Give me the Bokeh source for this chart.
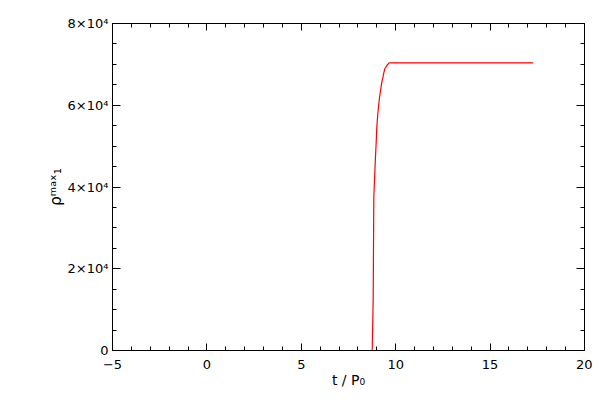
from bokeh.plotting import figure
from bokeh.models import LinearAxis, FixedTicker, Range1d, CustomJSTickFormatter
from bokeh.embed import file_html
from bokeh.resources import INLINE

# data
t_vals = [0, 8.755, 8.808, 8.84, 8.914, 8.946, 8.967, 8.999, 9.052, 9.105, 9.158,
          9.211, 9.264, 9.317, 9.370, 9.423, 9.475, 9.528, 9.581, 9.634, 9.687, 17.283]
rho_vals = [0, 0, 12700, 37500, 45750, 48930, 50960, 54630, 57910, 60360, 62390,
            64030, 65640, 66720, 67940, 68920, 69310, 69730, 69970, 70290, 70390, 70390]

x_ticks = [-5, 0, 5, 10, 15, 20]
x_minor = list(range(-5, 21))
y_ticks = [0, 20000, 40000, 60000, 80000]
y_tick_labels = ["0", "2×10⁴", "4×10⁴", "6×10⁴", "8×10⁴"]
y_minor = list(range(0, 80001, 5000))

FONT = "DejaVu Sans"

p = figure(width=592, height=392, output_backend="svg", toolbar_location=None,
           x_range=Range1d(-5, 20), y_range=Range1d(0, 80000),
           x_axis_label="t / P₀", y_axis_label="ρᵐᵃˣ₁",
           min_border_left=112, min_border_right=8, min_border_top=23, min_border_bottom=42)
p.xgrid.visible = False
p.ygrid.visible = False
p.outline_line_color = "black"
p.outline_line_width = 1
p.background_fill_color = "white"
p.border_fill_color = "white"

xt = FixedTicker(ticks=x_ticks, minor_ticks=x_minor)
yt = FixedTicker(ticks=y_ticks, minor_ticks=y_minor)

def style(ax, ticker, maj, mino, labels=True):
    ax.ticker = ticker
    ax.axis_line_color = "black"
    ax.major_tick_out = 0
    ax.major_tick_in = maj
    ax.minor_tick_out = 0
    ax.minor_tick_in = mino
    ax.major_tick_line_color = "black"
    ax.minor_tick_line_color = "black"
    ax.major_label_text_font = FONT
    ax.major_label_text_font_size = "13px"
    ax.major_label_text_color = "black"
    ax.axis_label_text_font = FONT
    ax.axis_label_text_font_size = "14px"
    ax.axis_label_text_font_style = "normal"
    ax.axis_label_text_color = "black"
    if not labels:
        ax.formatter = CustomJSTickFormatter(code="return ''")
        ax.major_label_standoff = 0

xa = p.xaxis[0]
ya = p.yaxis[0]
style(xa, xt, 7, 4)
style(ya, yt, 8, 4)
xa.major_label_standoff = 9
xa.axis_label_standoff = 0
ya.major_label_standoff = 4
ya.axis_label_standoff = 0
ya.axis_label_text_font_size = "15px"
ya.major_label_overrides = {v: s for v, s in zip(y_ticks, y_tick_labels)}

top = LinearAxis()
style(top, xt, 7, 4, labels=False)
p.add_layout(top, "above")
right = LinearAxis()
style(right, yt, 8, 4, labels=False)
p.add_layout(right, "right")

p.line(t_vals, rho_vals, line_color="red", line_width=1.2)

open("out.html", "w").write(file_html(p, INLINE))
